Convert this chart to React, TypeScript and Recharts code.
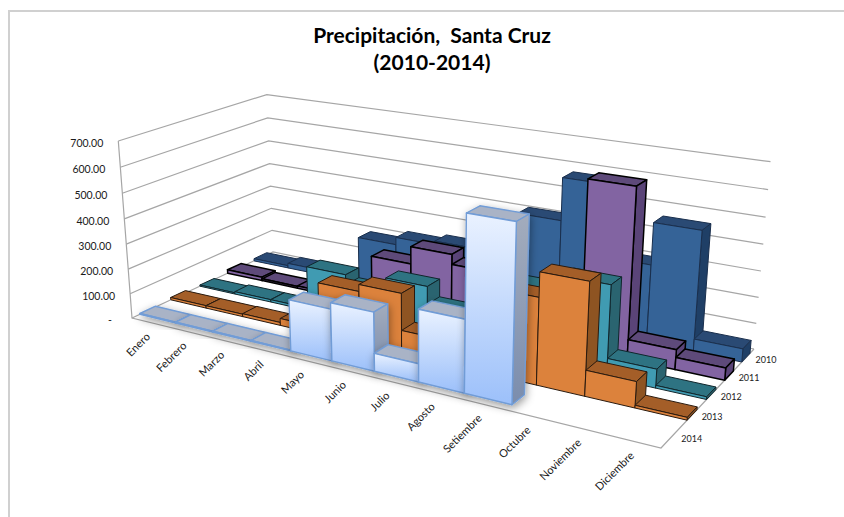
import { Bar, BarChart, CartesianGrid, Customized, XAxis, YAxis } from "recharts";

const months = ["Enero", "Febrero", "Marzo", "Abril", "Mayo", "Junio", "Julio", "Agosto", "Setiembre", "Octubre", "Noviembre", "Diciembre"];
const years = ["2010", "2011", "2012", "2013", "2014"];
const yTicks = [0, 100, 200, 300, 400, 500, 600, 700];

const rain2010 = [10, 20, 15, 195, 225, 240, 230, 410, 575, 300, 460, 50];
const rain2011 = [15, 8, 10, 12, 200, 270, 230, 200, 240, 640, 75, 45];
const rain2012 = [5, 10, 10, 180, 140, 200, 130, 120, 280, 340, 70, 10];
const rain2013 = [10, 10, 12, 28, 205, 232, 90, 130, 320, 410, 95, 10];
const rain2014 = [3, 3, 3, 3, 198, 222, 68, 268, 635, null, null, null];

const seriesData = [rain2010, rain2011, rain2012, rain2013, rain2014];
const data = months.map((name, i) => {
  const row: any = { name };
  years.forEach((y, s) => (row[y] = seriesData[s][i]));
  return row;
});

const W = 844;
const H = 517;
const PLOT_LEFT = 4;
const PLOT_W = 840;
const PLOT_H = 516;
const FONT = "Lato, 'Open Sans', sans-serif";

// corners of the floor as they sit in the picture, the point where the
// wall verticals meet, and the top of the front left corner
const FL = [132, 318];
const FR = [661, 448];
const BR = [754, 349];
const BL = [273, 252];
const VP = [424, 4087];
const FL_TOP_Y = 141;

const sx = FL[0] - FR[0] + BR[0] - BL[0];
const sy = FL[1] - FR[1] + BR[1] - BL[1];
const dx1 = FR[0] - BR[0];
const dx2 = BL[0] - BR[0];
const dy1 = FR[1] - BR[1];
const dy2 = BL[1] - BR[1];
const den = dx1 * dy2 - dx2 * dy1;
const g = (sx * dy2 - dx2 * sy) / den;
const h = (dx1 * sy - sx * dy1) / den;
const m = [FR[0] - FL[0] + g * FR[0], BL[0] - FL[0] + h * BL[0], FL[0]];
const n = [FR[1] - FL[1] + g * FR[1], BL[1] - FL[1] + h * BL[1], FL[1]];
const k = (FL_TOP_Y - FL[1]) / (VP[1] - FL_TOP_Y);

// u along the months, v from front to back, z up the value axis (all 0..1)
function project(u: number, v: number, z: number) {
  const w = g * u + h * v + 1 + k * z;
  return [(m[0] * u + m[1] * v + m[2] + k * VP[0] * z) / w, (n[0] * u + n[1] * v + n[2] + k * VP[1] * z) / w];
}

const pts = (list: number[][]) => list.map((p) => `${p[0].toFixed(1)},${p[1].toFixed(1)}`).join(" ");

const styles = [
  { front: "#356397", top: "#2a4a74", side: "#1f3f66", stroke: "#1a2f4d", sw: 1 },
  { front: "#8264a2", top: "#5e4a7a", side: "#5a4478", stroke: "#000000", sw: 1.5 },
  { front: "#409bb2", top: "#2e7382", side: "#2a6470", stroke: "#10262c", sw: 1 },
  { front: "#dc823c", top: "#a45e28", side: "#8e5422", stroke: "#2a1a0e", sw: 1 },
  { front: "url(#whiteFront)", top: "#a9b3c6", side: "url(#whiteSide)", stroke: "#719cd6", sw: 1.4, filter: "url(#barShadow)" },
];

const Box3D = (props: any) => {
  const { x, width, height, s } = props;
  if (!height || height <= 0) return null;
  const st = styles[s];
  const u0 = (x - PLOT_LEFT - s * width) / PLOT_W;
  const u1 = u0 + (5 * width) / PLOT_W;
  const row = years.length - 1 - s;
  const v0 = row * 0.2 + 0.05;
  const v1 = row * 0.2 + 0.15;
  const z = height / PLOT_H;
  const line = { stroke: st.stroke, strokeWidth: st.sw, strokeLinejoin: "round" as const };
  return (
    <g filter={st.filter}>
      <polygon points={pts([project(u0, v0, z), project(u1, v0, z), project(u1, v1, z), project(u0, v1, z)])} fill={st.top} {...line} />
      <polygon points={pts([project(u1, v0, 0), project(u1, v1, 0), project(u1, v1, z), project(u1, v0, z)])} fill={st.side} {...line} />
      <polygon points={pts([project(u0, v0, 0), project(u1, v0, 0), project(u1, v0, z), project(u0, v0, z)])} fill={st.front} {...line} />
    </g>
  );
};

const GridLine = (props: any) => {
  const z = 1 - props.y1 / PLOT_H;
  return (
    <polyline
      key={props.key}
      points={pts([project(0, 0, z), project(0, 1, z), project(1, 1, z)])}
      fill="none"
      stroke="#a6a6a6"
      strokeWidth={1.2}
    />
  );
};

const ValueTick = (props: any) => {
  const value = props.payload.value;
  const p = project(0, 0, 1 - props.y / PLOT_H);
  return (
    <text x={p[0] - (value === 0 ? 20 : 15)} y={p[1] + 6} textAnchor="end" fontFamily={FONT} fontSize={10.5} fill="#1a1a1a">
      {value === 0 ? "-" : value.toFixed(2)}
    </text>
  );
};

const MonthTick = (props: any) => {
  const p = project((props.x - PLOT_LEFT) / PLOT_W, 0, 0);
  const tx = p[0] + 1;
  const ty = p[1] + 15;
  return (
    <text x={tx} y={ty} textAnchor="end" transform={`rotate(-45 ${tx} ${ty})`} fontFamily={FONT} fontSize={11} fill="#1a1a1a">
      {props.payload.value}
    </text>
  );
};

const Frame = () => (
  <g>
    <polyline points={pts([project(0, 0, 1), project(0, 0, 0), project(1, 0, 0), project(1, 1, 0)])} fill="none" stroke="#a6a6a6" strokeWidth={1.2} />
    {years.map((y, s) => {
      const p = project(1, (years.length - 1 - s) * 0.2 + 0.1, 0);
      return (
        <text key={y} x={p[0] + 20} y={p[1] + 5} textAnchor="middle" fontFamily={FONT} fontSize={9} fill="#1a1a1a">
          {y}
        </text>
      );
    })}
    <text x={432} y={43} textAnchor="middle" fontFamily={FONT} fontSize={21} fontWeight={700} fill="#000" style={{ whiteSpace: "pre" }}>
      {"Precipitación,  Santa Cruz"}
    </text>
    <text x={432} y={70} textAnchor="middle" fontFamily={FONT} fontSize={21} fontWeight={700} fill="#000">
      (2010-2014)
    </text>
  </g>
);

export default function App() {
  return (
    <div style={{ position: "absolute", left: 0, top: 0, width: W, height: H, background: "#fff", overflow: "hidden" }}>
      <div style={{ position: "absolute", left: 8, top: 10, right: 0, bottom: 0, borderTop: "2px solid #d0d0d0", borderLeft: "2px solid #d0d0d0" }} />
      <BarChart width={W} height={H} data={data} margin={{ top: 0, right: 0, bottom: 0, left: 0 }} barGap={0} barCategoryGap={0}>
        <defs>
          <linearGradient id="whiteFront" x1="0" y1="0" x2="0" y2="1">
            <stop offset="0" stopColor="#eaf2ff" />
            <stop offset="1" stopColor="#9cc0fa" />
          </linearGradient>
          <linearGradient id="whiteSide" x1="0" y1="0" x2="0" y2="1">
            <stop offset="0" stopColor="#a3acbd" />
            <stop offset="1" stopColor="#7b8dad" />
          </linearGradient>
          <filter id="barShadow" x="-40%" y="-40%" width="180%" height="180%">
            <feDropShadow dx="1" dy="3" stdDeviation="4" floodColor="#000" floodOpacity="0.4" />
          </filter>
        </defs>
        <CartesianGrid vertical={false} horizontal={(p: any) => <GridLine {...p} />} />
        <XAxis dataKey="name" height={1} interval={0} axisLine={false} tickLine={false} tick={(p: any) => <MonthTick {...p} />} />
        <YAxis width={PLOT_LEFT} domain={[0, 700]} ticks={yTicks} interval={0} axisLine={false} tickLine={false} tick={(p: any) => <ValueTick {...p} />} />
        <Customized component={Frame} />
        {years.map((y, s) => (
          <Bar key={y} dataKey={y} isAnimationActive={false} shape={(p: any) => <Box3D {...p} s={s} />} />
        ))}
      </BarChart>
    </div>
  );
}
